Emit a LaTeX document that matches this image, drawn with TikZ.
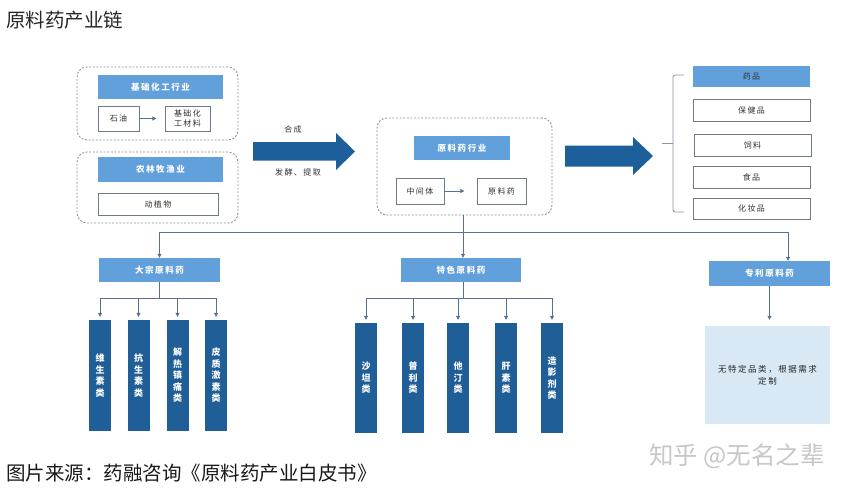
\documentclass[tikz,border=0pt]{standalone}
\usepackage{fontspec}
\setmainfont{Noto Sans CJK SC}
\newfontfamily\spcj{Noto Sans CJK SC}[LetterSpace=18]
\usetikzlibrary{arrows.meta}
\definecolor{dashc}{HTML}{8A96A3}
\definecolor{barc}{HTML}{62A0DB}
\definecolor{colc}{HTML}{1F5E96}
\definecolor{arrc}{HTML}{1D5F9A}
\definecolor{boxc}{HTML}{6F7A85}
\definecolor{linec}{HTML}{56728F}
\definecolor{lightc}{HTML}{D9E8F5}
\tikzset{
  dbox/.style={draw=dashc, dash pattern=on 2pt off 1.6pt, line width=0.9pt, rounded corners=10pt, inner sep=0pt},
  lbar/.style={fill=barc, text=white, font=\spcj\bfseries\fontsize{8.5}{10}\selectfont, inner sep=0pt},
  wbox/.style={draw=boxc, line width=0.7pt, fill=white, inner sep=0pt, align=center, text=black!80, font=\spcj\fontsize{8}{10}\selectfont},
  colbox/.style={fill=colc, text=white, font=\bfseries\fontsize{9}{11.5}\selectfont, align=center, inner sep=0pt, minimum width=22, minimum height=111},
  conn/.style={draw=linec, line width=0.8pt},
  arr/.style={conn, -{Triangle[length=4pt,width=4pt]}},
  lbl/.style={font=\spcj\fontsize{8}{10}\selectfont, text=black!80, inner sep=0pt},
}
\begin{document}
\begin{tikzpicture}[x=1pt,y=-1pt]
\useasboundingbox[fill=white] (0,0) rectangle (850,490);

% title and footer
\node[anchor=west, font=\fontsize{19.5}{21}\selectfont, text=black!85, inner sep=0pt] (title) at (6,20) {原料药产业链};
\node[anchor=west, font=\fontsize{19.5}{21}\selectfont, text=black!90, inner sep=0pt] (source) at (6,473) {图片来源：药融咨询《原料药产业白皮书》};
\node[anchor=west, font=\fontsize{24.5}{26}\selectfont, text=black!22, inner sep=0pt] (wm) at (649,456) {知乎 @无名之辈};

% left group
\node[dbox, minimum width=161, minimum height=73] (A) at (157.5,103.5) {};
\node[lbar, minimum width=125, minimum height=24] (Abar) at (160.5,87) {基础化工行业};
\node[wbox, minimum width=41, minimum height=25] (oil) at (118.5,118.5) {石油};
\node[wbox, minimum width=45, minimum height=25] (chem) at (187.5,118.5) {基础化\\工材料};
\draw[conn, -{Triangle[length=4pt,width=4pt]}] (oil.east) -- ++(17,0);

\node[dbox, minimum width=161, minimum height=71] (B) at (157.5,187.5) {};
\node[lbar, minimum width=125, minimum height=25] (Bbar) at (160.5,169.5) {农林牧渔业};
\node[wbox, minimum width=120, minimum height=22] (plant) at (158,204) {动植物};

% big arrow 1
\fill[arrc] (253,142) -- (336,142) -- (336,133) -- (355,151.5) -- (336,170) -- (336,160.5) -- (253,160.5) -- cycle;
\node[lbl] (syn) at (293,129) {合成};
\node[lbl] (fer) at (298,172.5) {发酵、提取};

% middle group
\node[dbox, minimum width=175, minimum height=97] (C) at (464.5,166.5) {};
\node[lbar, minimum width=96, minimum height=24] (Cbar) at (462,148) {原料药行业};
\node[wbox, minimum width=48, minimum height=26] (mid) at (420,191) {中间体};
\node[wbox, minimum width=49, minimum height=26] (api) at (501.5,191) {原料药};
\draw[conn, -{Triangle[length=4pt,width=4pt]}] (mid.east) -- ++(20,0);

% big arrow 2
\fill[arrc] (565,145.5) -- (633,145.5) -- (633,137) -- (653,156) -- (633,175) -- (633,166.5) -- (565,166.5) -- cycle;

% bracket
\draw[draw=dashc, line width=0.9pt, rounded corners=2pt] (684,75) -- (673,75) -- (673,212) -- (684,212);
\draw[draw=dashc, line width=0.9pt] (673,143.5) -- (662,143.5);

% right list
\node[lbar, minimum width=117, minimum height=21, font=\spcj\fontsize{8}{10}\selectfont, text=black!80] (r1) at (751.5,76.5) {药品};
\node[wbox, minimum width=117, minimum height=22] (r2) at (751.5,110) {保健品};
\node[wbox, minimum width=117, minimum height=22] (r3) at (752.5,145) {饲料};
\node[wbox, minimum width=117, minimum height=22] (r4) at (751.5,177) {食品};
\node[wbox, minimum width=117, minimum height=21] (r5) at (751.5,208.5) {化妆品};

% category bars
\node[lbar, minimum width=121, minimum height=24] (D) at (159.5,270) {大宗原料药};
\node[lbar, minimum width=120, minimum height=24] (E) at (461,270) {特色原料药};
\node[lbar, minimum width=121, minimum height=25] (F) at (769.5,273.5) {专利原料药};

\coordinate (Jy) at (0,232);
\coordinate (Fx) at (788,0);
\coordinate (Cx) at (463,0);
\draw[conn] (C.south -| Cx) -- (Cx |- Jy);
\draw[arr] (Cx |- Jy) -- (Cx |- E.north);
\draw[arr] (Cx |- Jy) -| (D.north);
\draw[arr] (Cx |- Jy) -| (Fx |- F.north);

% bulk columns
\node[colbox, minimum height=111] (d1) at (100,375.5) {维\\生\\素\\类};
\node[colbox, minimum height=111] (d2) at (138.5,375.5) {抗\\生\\素\\类};
\node[colbox, minimum height=111] (d3) at (177.5,375.5) {解\\热\\镇\\痛\\类};
\node[colbox, minimum height=111] (d4) at (216,375.5) {皮\\质\\激\\素\\类};
\coordinate (Dy) at (0,298);
\draw[conn] (D.south) -- (D.south |- Dy);
\draw[conn] (d1 |- Dy) -- (d4 |- Dy);
\foreach \i in {1,...,4} \draw[arr, shorten >=3pt] (d\i |- Dy) -- (d\i.north);

% specialty columns
\node[colbox, minimum height=110] (e1) at (366,378) {沙\\坦\\类};
\node[colbox, minimum height=110] (e2) at (413,378) {普\\利\\类};
\node[colbox, minimum height=110] (e3) at (458,378) {他\\汀\\类};
\node[colbox, minimum height=110] (e4) at (506,378) {肝\\素\\类};
\node[colbox, minimum height=110] (e5) at (552,378) {造\\影\\剂\\类};
\draw[conn] (Cx |- E.south) -- (Cx |- Dy);
\draw[conn] (e1 |- Dy) -- (e5 |- Dy);
\foreach \i in {1,...,5} \draw[arr, shorten >=3pt] (e\i |- Dy) -- (e\i.north);

% patent box
\node[fill=lightc, minimum width=125, minimum height=98, inner sep=0pt, align=center, font=\spcj\fontsize{8.5}{12}\selectfont, text=black!85] (G) at (767.5,375) {无特定品类，根据需求\\定制};
\draw[arr, shorten >=6pt] (F.south) -- (F.south |- G.north);
\end{tikzpicture}
\end{document}
